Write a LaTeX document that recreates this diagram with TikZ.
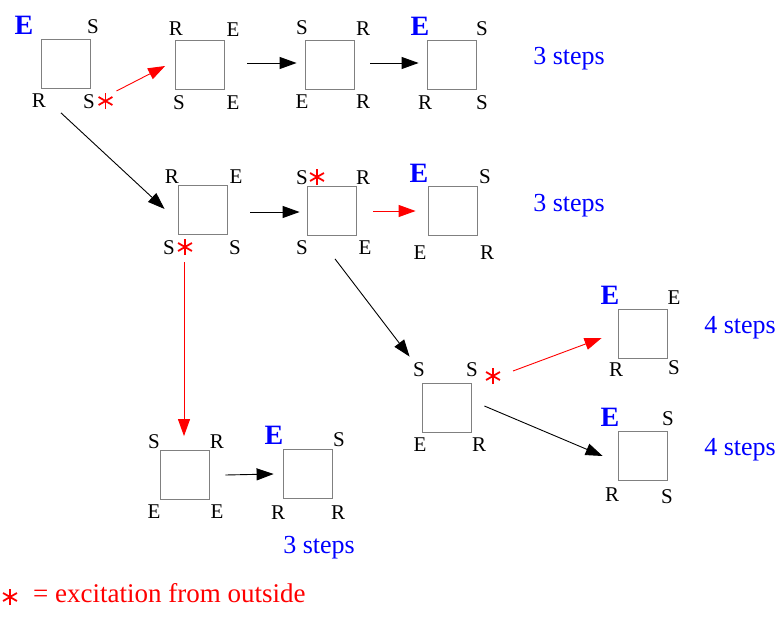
\documentclass[tikz,border=0pt]{standalone}
\usepackage{fontspec}
\setmainfont{Liberation Serif}
\usetikzlibrary{arrows.meta,positioning}

\tikzset{
  etat/.style={draw=gray, line width=0.8pt, minimum width=49pt, minimum height=49pt, inner sep=0pt},
  lbl/.style={inner sep=0pt, font=\fontsize{21}{21}\selectfont},
  bigE/.style={inner sep=0pt, text=blue, font=\fontsize{28}{28}\selectfont\bfseries},
  nbsteps/.style={inner sep=0pt, anchor=base, text=blue, font=\fontsize{26}{26}\selectfont},
  excit/.style={inner sep=0pt, minimum size=16pt},
  trans/.style={-{Triangle[length=17pt,width=12pt]}, line width=0.9pt},
  excarrow/.style={trans, red},
}
% red star of an outside excitation, drawn on a named node
\newcommand{\starex}[1]{%
  \foreach \ang in {90,30,150}
    \draw[red, line width=1.8pt] ([shift={(\ang:8)}]#1.center) -- ([shift={(\ang+180:8)}]#1.center);}

\begin{document}
\begin{tikzpicture}[x=1pt, y=-1pt]
    \useasboundingbox (0,0) rectangle (784,618);

    % first row
    \node[etat] (st1) at (65.5,64) {};
    \node[bigE] (st1nw) at (24,25) {E};
    \node[lbl] (st1ne) at (93,27) {S};
    \node[lbl] (st1sw) at (39,101) {R};
    \node[lbl] (st1se) at (89,102) {S};
    \node[excit] (ex1) at (105.5,101) {};

    \node[etat] (st2) at (200,64.5) {};
    \node[lbl] (st2nw) at (176,29) {R};
    \node[lbl] (st2ne) at (233,30) {E};
    \node[lbl] (st2sw) at (179,103) {S};
    \node[lbl] (st2se) at (233,103) {E};

    \node[etat] (st3) at (329.5,64.5) {};
    \node[lbl] (st3nw) at (302,28) {S};
    \node[lbl] (st3ne) at (363,29) {R};
    \node[lbl] (st3sw) at (302,102) {E};
    \node[lbl] (st3se) at (363,102) {R};

    \node[etat] (st4) at (451.5,64.5) {};
    \node[bigE] (st4nw) at (420,26) {E};
    \node[lbl] (st4ne) at (482,29) {S};
    \node[lbl] (st4sw) at (425,103) {R};
    \node[lbl] (st4se) at (482,103) {S};
    \node[nbsteps] (steps1) at (569,65) {3 steps};

    % second row
    \node[etat] (st5) at (202.5,210) {};
    \node[lbl] (st5nw) at (172,177) {R};
    \node[lbl] (st5ne) at (236,177) {E};
    \node[lbl] (st5sw) at (169,248) {S};
    \node[lbl] (st5se) at (235,248) {S};
    \node[excit] (ex5) at (185,247) {};

    \node[etat] (st6) at (331.5,211) {};
    \node[lbl] (st6nw) at (302,178) {S};
    \node[excit] (ex6) at (317,177) {};
    \node[lbl] (st6ne) at (363,178) {R};
    \node[lbl] (st6sw) at (302,248) {S};
    \node[lbl] (st6se) at (365,248) {E};

    \node[etat] (st7) at (452.5,211) {};
    \node[bigE] (st7nw) at (419,173) {E};
    \node[lbl] (st7ne) at (485,177) {S};
    \node[lbl] (st7sw) at (420,253) {E};
    \node[lbl] (st7se) at (487,253) {R};
    \node[nbsteps] (steps2) at (569,211) {3 steps};

    % third row
    \node[etat] (st8) at (446.5,407.5) {};
    \node[lbl] (st8nw) at (419,370) {S};
    \node[lbl] (st8ne) at (472,370) {S};
    \node[excit] (ex8) at (493,376) {};
    \node[lbl] (st8sw) at (420,445) {E};
    \node[lbl] (st8se) at (479,445) {R};

    \node[etat] (st9) at (642.5,333.5) {};
    \node[bigE] (st9nw) at (610,295) {E};
    \node[lbl] (st9ne) at (674,298) {E};
    \node[lbl] (st9sw) at (616,370) {R};
    \node[lbl] (st9se) at (674,368) {S};
    \node[nbsteps] (steps3) at (740,333) {4 steps};

    \node[etat] (st10) at (642.5,456) {};
    \node[bigE] (st10nw) at (610,417) {E};
    \node[lbl] (st10ne) at (668,419) {S};
    \node[lbl] (st10sw) at (612,495) {R};
    \node[lbl] (st10se) at (667,497) {S};
    \node[nbsteps] (steps4) at (740,455) {4 steps};

    % fourth row
    \node[etat] (st11) at (184.5,475) {};
    \node[lbl] (st11nw) at (154,442) {S};
    \node[lbl] (st11ne) at (217,442) {R};
    \node[lbl] (st11sw) at (154,512) {E};
    \node[lbl] (st11se) at (217,512) {E};

    \node[etat] (st12) at (307.5,473.5) {};
    \node[bigE] (st12nw) at (274,435) {E};
    \node[lbl] (st12ne) at (339,440) {S};
    \node[lbl] (st12sw) at (278,513) {R};
    \node[lbl] (st12se) at (338,513) {R};
    \node[nbsteps] (steps5) at (319,553) {3 steps};

    % legend
    \node[excit] (exleg) at (10,597) {};
    \node[anchor=base west, inner sep=0pt, text=red, font=\fontsize{27}{27}\selectfont] (legende) at (33,602) {= excitation from outside};

    \starex{ex1} \starex{ex5} \starex{ex6} \starex{ex8} \starex{exleg}

    % transitions
    \draw[excarrow] ([shift={(11,-10)}]ex1.center) -- ([shift={(-10,1.5)}]st2.west);
    \draw[trans] ([shift={(22.5,-1.5)}]st2.east) -- ([shift={(-8,-1.5)}]st3.west);
    \draw[trans] ([shift={(16,-1.5)}]st3.east) -- ([shift={(-8,-1.5)}]st4.west);
    \draw[trans] ([shift={(-4.5,24)}]st1.south) -- ([shift={(-13,-1)}]st5.west);
    \draw[trans] ([shift={(23,2)}]st5.east) -- ([shift={(-7,1)}]st6.west);
    \draw[excarrow] ([shift={(17,0)}]st6.east) -- ([shift={(-12,0)}]st7.west);
    \draw[trans] ([shift={(3.5,23)}]st6.south) -- ([shift={(-12,-26)}]st8.north west);
    \draw[excarrow] ([shift={(20,-5)}]ex8.center) -- ([shift={(-16,4.5)}]st9.west);
    \draw[trans] ([shift={(13,-1.5)}]st8.east) -- ([shift={(-15,0)}]st10.west);
    \draw[excarrow] ([shift={(-1,15)}]ex5.center) -- ([shift={(-0.5,-14)}]st11.north);
    \draw[trans] ([shift={(16,0)}]st11.east) -- ([shift={(-9,0.5)}]st12.west);
\end{tikzpicture}
\end{document}
